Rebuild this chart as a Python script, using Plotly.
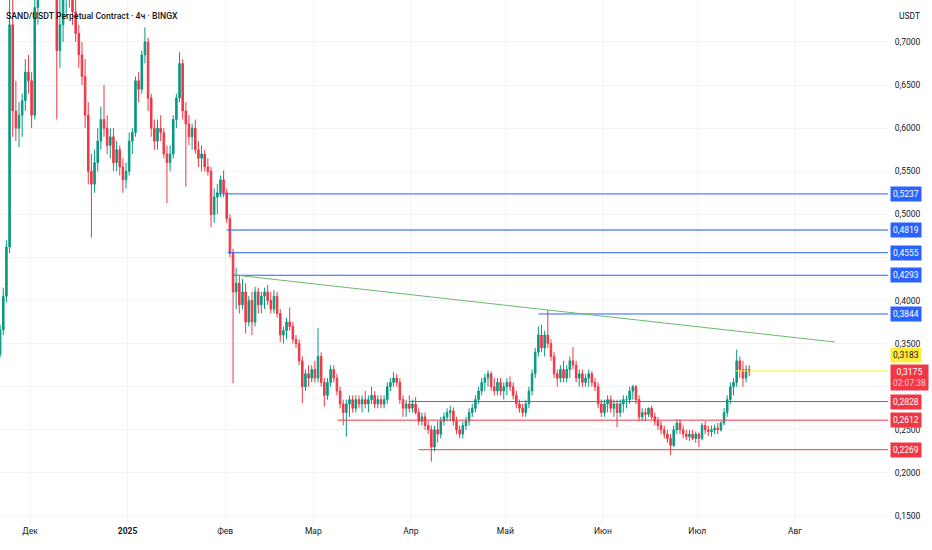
import pandas as pd
import plotly.graph_objects as go

# daily candles, SAND/USDT
start_day = "2024-11-20 12:00"

opens = [
    .318, .338, .366, .405, .462, .720, .620, .600, .615, .632,
    .665, .655, .615, .740, .820, .860, .880, .860, .830, .800,
    .690, .720, .750, .770, .760, .735, .710, .685, .660, .615,
    .550, .535, .560, .585, .610, .600, .580, .590, .560, .575,
    .555, .540, .550, .585, .595, .655, .645, .685, .700, .635,
    .600, .585, .600, .595, .570, .560, .570, .610, .635, .675,
    .620, .605, .590, .600, .575, .565, .570, .555, .550, .500,
    .520, .525, .540, .525, .495, .455, .410, .420, .395, .410,
    .375, .400, .375, .410, .395, .405, .410, .400, .390, .405,
    .385, .360, .365, .375, .370, .355, .350, .330, .300, .315,
    .310, .320, .310, .335, .305, .290, .305, .320, .310, .295,
    .280, .270, .280, .285, .275, .285, .280, .285, .280, .285,
    .290, .280, .285, .280, .285, .300, .305, .310, .305, .285,
    .275, .280, .275, .280, .270, .260, .265, .255, .250, .230,
    .250, .245, .260, .265, .270, .272, .260, .250, .245, .255,
    .260, .270, .275, .285, .295, .305, .310, .315, .300, .295,
    .305, .295, .300, .305, .300, .290, .280, .275, .270, .280,
    .295, .315, .340, .360, .345, .360, .350, .335, .315, .310,
    .320, .310, .320, .330, .325, .310, .315, .305, .310, .315,
    .305, .300, .280, .270, .280, .285, .275, .280, .270, .280,
    .285, .285, .295, .300, .285, .265, .270, .268, .275, .265,
    .260, .255, .250, .245, .240, .232, .250, .258, .250, .245,
    .242, .245, .240, .245, .240, .255, .250, .248, .250, .252,
    .250, .258, .270, .285, .300, .305, .330, .320, .310, .320,
]
highs = [
    .342, .372, .415, .470, .820, .760, .655, .630, .640, .680,
    .685, .665, .780, .860, .900, .920, .910, .890, .860, .810,
    .750, .780, .800, .800, .780, .750, .720, .700, .680, .630,
    .570, .575, .600, .625, .650, .615, .600, .600, .585, .580,
    .565, .560, .595, .600, .660, .665, .690, .717, .705, .640,
    .610, .610, .615, .600, .580, .580, .615, .640, .688, .680,
    .630, .615, .605, .610, .585, .580, .575, .565, .555, .530,
    .535, .545, .551, .530, .500, .460, .438, .430, .425, .420,
    .405, .410, .416, .415, .410, .415, .418, .410, .412, .410,
    .390, .370, .380, .392, .375, .360, .355, .335, .320, .325,
    .325, .330, .368, .340, .310, .310, .325, .325, .315, .300,
    .285, .285, .290, .290, .290, .290, .290, .295, .290, .300,
    .295, .290, .290, .290, .305, .310, .317, .315, .310, .290,
    .285, .290, .285, .288, .275, .270, .270, .260, .255, .255,
    .260, .265, .270, .275, .278, .276, .265, .255, .260, .265,
    .275, .280, .290, .300, .310, .315, .319, .318, .310, .310,
    .310, .305, .310, .312, .305, .295, .285, .280, .285, .300,
    .320, .345, .370, .372, .365, .389, .355, .340, .320, .325,
    .330, .325, .335, .346, .330, .320, .320, .315, .320, .318,
    .310, .305, .285, .285, .290, .290, .285, .285, .285, .290,
    .290, .300, .302, .302, .290, .275, .275, .276, .278, .270,
    .265, .260, .255, .250, .245, .255, .262, .262, .255, .250,
    .250, .250, .248, .247, .258, .260, .255, .255, .256, .258,
    .260, .275, .290, .305, .310, .343, .335, .330, .325, .325,
]
lows = [
    .312, .334, .360, .398, .455, .590, .585, .578, .590, .620,
    .640, .600, .610, .720, .790, .830, .840, .800, .780, .610,
    .670, .700, .730, .740, .720, .700, .670, .650, .600, .535,
    .473, .525, .550, .575, .590, .570, .565, .550, .550, .545,
    .525, .530, .545, .570, .590, .630, .640, .675, .620, .590,
    .575, .575, .585, .565, .513, .550, .565, .600, .630, .610,
    .532, .580, .575, .570, .555, .550, .550, .545, .485, .490,
    .500, .520, .520, .490, .450, .304, .390, .385, .390, .362,
    .370, .360, .370, .385, .385, .390, .395, .385, .385, .380,
    .352, .350, .355, .365, .350, .345, .325, .281, .295, .300,
    .305, .305, .305, .300, .277, .285, .300, .305, .290, .275,
    .255, .242, .265, .270, .270, .275, .270, .275, .270, .280,
    .275, .275, .275, .275, .280, .295, .300, .300, .280, .265,
    .265, .270, .270, .268, .255, .255, .250, .245, .213, .225,
    .235, .240, .255, .260, .260, .255, .245, .240, .240, .250,
    .255, .265, .270, .280, .290, .295, .300, .295, .290, .290,
    .290, .285, .290, .295, .285, .275, .270, .265, .265, .275,
    .290, .310, .335, .340, .335, .345, .330, .310, .300, .305,
    .305, .305, .310, .320, .305, .300, .300, .300, .300, .300,
    .295, .275, .265, .265, .270, .270, .265, .253, .265, .270,
    .275, .280, .285, .280, .260, .260, .260, .265, .262, .255,
    .250, .245, .240, .235, .221, .230, .245, .245, .240, .238,
    .237, .238, .235, .230, .238, .245, .243, .242, .245, .245,
    .248, .255, .265, .280, .290, .300, .310, .300, .305, .312,
]
closes = [
    .338, .366, .405, .462, .720, .620, .600, .615, .632, .665,
    .655, .615, .740, .820, .860, .880, .860, .830, .800, .690,
    .720, .750, .770, .760, .735, .710, .685, .660, .615, .550,
    .535, .560, .585, .610, .600, .580, .590, .560, .575, .555,
    .540, .550, .585, .595, .655, .645, .685, .700, .635, .600,
    .585, .600, .595, .570, .560, .570, .610, .635, .675, .620,
    .605, .590, .600, .575, .565, .570, .555, .550, .500, .520,
    .525, .540, .525, .495, .455, .410, .420, .395, .410, .375,
    .400, .375, .410, .395, .405, .410, .400, .390, .405, .385,
    .360, .365, .375, .370, .355, .350, .330, .300, .315, .310,
    .320, .310, .335, .305, .290, .305, .320, .310, .295, .280,
    .270, .280, .285, .275, .285, .280, .285, .280, .285, .290,
    .280, .285, .280, .285, .300, .305, .310, .305, .285, .275,
    .280, .275, .280, .270, .260, .265, .255, .250, .230, .250,
    .245, .260, .265, .270, .272, .260, .250, .245, .255, .260,
    .270, .275, .285, .295, .305, .310, .315, .300, .295, .305,
    .295, .300, .305, .300, .290, .280, .275, .270, .280, .295,
    .315, .340, .360, .345, .360, .350, .335, .315, .310, .320,
    .310, .320, .330, .325, .310, .315, .305, .310, .315, .305,
    .300, .280, .270, .280, .285, .275, .280, .270, .280, .285,
    .285, .295, .300, .285, .265, .270, .268, .275, .265, .260,
    .255, .250, .245, .240, .232, .250, .258, .250, .245, .242,
    .245, .240, .245, .240, .255, .250, .248, .250, .252, .250,
    .258, .270, .285, .300, .305, .330, .320, .310, .320, .3175,
]
days = pd.date_range(start_day, periods=len(closes), freq="D")

# drawn levels
blue_levels = [0.5237, 0.4819, 0.4555, 0.4293, 0.3844]
blue_starts = ["2025-01-29 07:00", "2025-02-01 12:00", "2025-02-01 19:00",
               "2025-02-03 10:00", "2025-05-11 14:00"]
red_levels = [0.2828, 0.2612, 0.2269]
red_starts = ["2025-03-31 10:00", "2025-03-08 17:00", "2025-04-03 12:00"]
trend_x = ["2025-02-03 19:00", "2025-08-13 19:00"]
trend_y = [0.4297, 0.3518]
mark_level = 0.3183
mark_start = "2025-07-12 22:00"
last_price = 0.3175
countdown = "02:07:38"

month_ticks = ["2024-12-01", "2025-01-01", "2025-02-01", "2025-03-01", "2025-04-01",
               "2025-05-01", "2025-06-01", "2025-07-01", "2025-08-01"]
month_text = ["Дек", "<b>2025</b>", "Фев", "Мар", "Апр", "Май", "Июн", "Июл", "Авг"]
price_ticks = [0.15, 0.20, 0.25, 0.30, 0.35, 0.40, 0.45, 0.50, 0.55, 0.60, 0.65, 0.70]
# labels hidden behind the price tags on the axis
hidden_ticks = [0.30, 0.45]
price_text = ["" if t in hidden_ticks else f"{t:.4f}".replace(".", ",") for t in price_ticks]

x_range = ["2024-11-21 11:00", "2025-08-30 14:00"]
x_end = x_range[1]

FONT = "Roboto"
TXT = "#131722"
BLUE = "#2962FF"
RED = "#F23645"

fig = go.Figure(go.Candlestick(
    x=days, open=opens, high=highs, low=lows, close=closes,
    increasing=dict(line=dict(color="#089981", width=1), fillcolor="#089981"),
    decreasing=dict(line=dict(color=RED, width=1), fillcolor=RED),
    whiskerwidth=0, hoverinfo="skip", showlegend=False,
))

for lvl, x0 in zip(blue_levels, blue_starts):
    thick = lvl == 0.4819
    fig.add_shape(type="line", xref="x", yref="y", x0=x0, x1=x_end, y0=lvl, y1=lvl,
                  line=dict(color="rgba(41,98,255,0.55)" if thick else BLUE,
                            width=2 if thick else 1))
for lvl, x0 in zip(red_levels, red_starts):
    fig.add_shape(type="line", xref="x", yref="y", x0=x0, x1=x_end, y0=lvl, y1=lvl,
                  line=dict(color=RED, width=1))
fig.add_shape(type="line", xref="x", yref="y", x0=trend_x[0], x1=trend_x[1],
              y0=trend_y[0], y1=trend_y[1], line=dict(color="#66bb6a", width=1))
fig.add_shape(type="line", xref="x", yref="y", x0=mark_start, x1=x_end,
              y0=mark_level, y1=mark_level, line=dict(color="#FFEB3B", width=1))


def price_tag(val, bg, fg, text=None, shift=0):
    fig.add_annotation(xref="paper", yref="y", x=1, y=val, xanchor="left", yanchor="middle",
                       xshift=2, yshift=shift, showarrow=False,
                       text=text or f"{val:.4f}".replace(".", ","),
                       font=dict(family=FONT, size=8.5, color=fg),
                       bgcolor=bg, borderpad=2, align="center")


for lvl in blue_levels:
    price_tag(lvl, BLUE, "white")
for lvl in red_levels:
    price_tag(lvl, RED, "white")
price_tag(mark_level, "#FFEB3B", TXT, shift=16)
price_tag(last_price, RED, "white",
          text=f"{last_price:.4f}".replace(".", ",")
          + f"<br><span style='color:rgba(255,255,255,0.75)'>{countdown}</span>", shift=-6)

fig.add_annotation(xref="paper", yref="paper", x=0, y=1, xanchor="left", yanchor="top",
                   xshift=4, yshift=-9, showarrow=False,
                   text="SAND/USDT Perpetual Contract · 4ч · BINGX",
                   font=dict(family=FONT, size=8.7, color=TXT, weight=500))
fig.add_annotation(xref="paper", yref="paper", x=1, y=1, xanchor="left", yanchor="top",
                   xshift=9, yshift=-9, showarrow=False, text="USDT",
                   font=dict(family=FONT, size=8.5, color=TXT))

fig.update_layout(
    width=932, height=550,
    margin=dict(l=0, r=44, t=0, b=26),
    paper_bgcolor="white", plot_bgcolor="white",
    separators=", ",
    font=dict(family=FONT, size=8.5, color=TXT),
    xaxis=dict(range=x_range, tickvals=month_ticks, ticktext=month_text,
               showgrid=True, gridcolor="#f3f3f3", zeroline=False,
               rangeslider=dict(visible=False), ticks="", showline=False),
    yaxis=dict(range=[0.1407, 0.7487], side="right", tickvals=price_ticks,
               ticktext=price_text, showgrid=True, gridcolor="#f3f3f3",
               zeroline=False, ticks="outside", ticklen=4, tickcolor="rgba(0,0,0,0)"),
)

# the page body has a default 8px margin, drop it so the figure fills the window
fig.write_html("out.html", config={"displayModeBar": False},
               post_script="document.body.style.margin='0';")
